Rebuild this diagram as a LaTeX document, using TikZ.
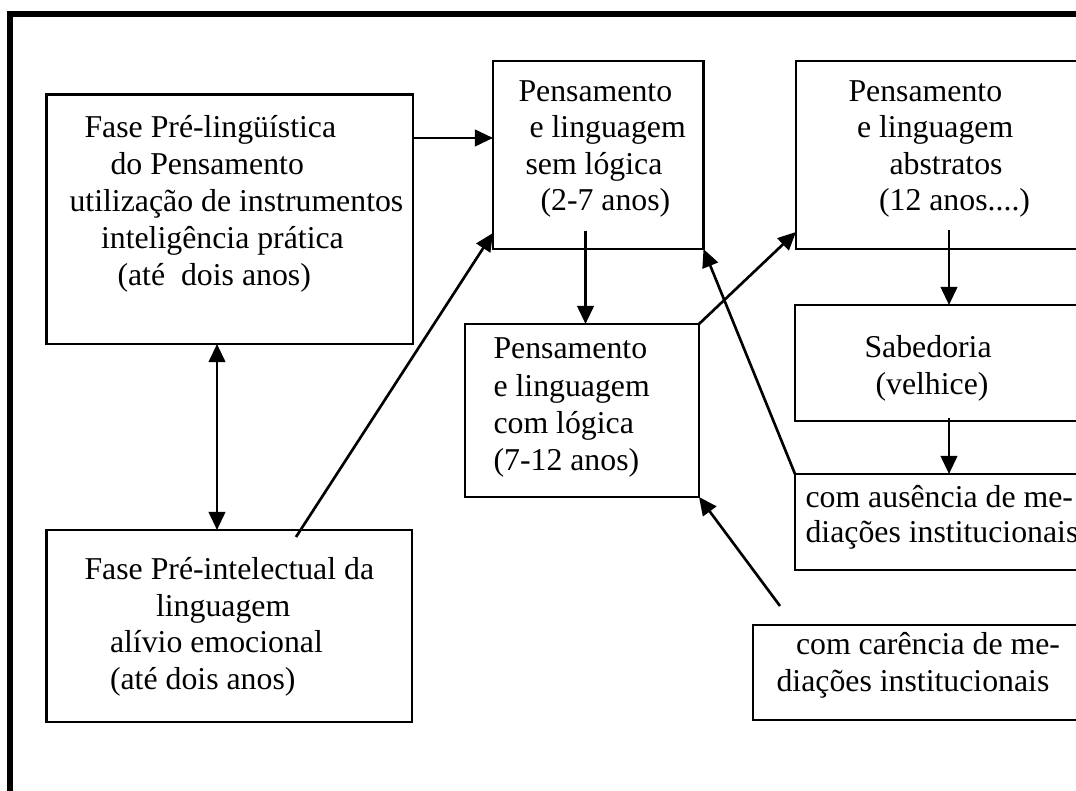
\documentclass[tikz,border=0pt]{standalone}
\usepackage{fontspec}
\setmainfont{Liberation Serif}
\usetikzlibrary{arrows.meta}
\newlength\U
\setlength\U{0.3774pt}
\tikzset{
  box/.style n args={2}{draw, line width=0.8pt, inner sep=0pt, outer sep=0pt,
    minimum width=#1*\U, minimum height=#2*\U, anchor=north west},
  txt/.style={inner sep=0pt, anchor=base west, font=\fontsize{12}{13.8}\selectfont},
  tip/.style={},
  arr/.style={line width=1pt, -{Triangle[length=6.8pt,width=6.2pt]}},
  dblarr/.style={line width=1pt, {Triangle[length=6.8pt,width=6.2pt]}-{Triangle[length=6.8pt,width=6.2pt]}},
  frame/.style={line width=2.3pt}
}
\begin{document}
\begin{tikzpicture}[x=\U, y=-\U]
\useasboundingbox (0,0) rectangle (1076,791);
\clip (0,0) rectangle (1076,791);
\fill[white] (0,0) rectangle (1076,791);
% outer frame
\draw[frame] (10,800) -- (10,14) -- (1090,14);
% boxes
\node[box={366.5}{249.5}] (A) at (46.5,94.5) {};
\node[box={210.5}{188}] (B) at (493,61) {};
\node[box={304}{188}] (C) at (796,61) {};
\node[box={234}{173}] (D) at (465,324) {};
\node[box={305}{116}] (E) at (795,305) {};
\node[box={305}{96}] (F) at (795,474) {};
\node[box={365.5}{192}] (G) at (46.5,530) {};
\node[box={347}{95}] (H) at (753,625) {};
% texts A
\node[txt] (a1) at (84,138) {Fase Pré-lingüística};
\node[txt] (a2) at (110,175) {do Pensamento};
\node[txt] (a3) at (69,212) {utilização de instrumentos};
\node[txt] (a4) at (100.5,249) {inteligência prática};
\node[txt] (a5) at (117,286) {(até\ \ dois anos)};
% texts B
\node[txt] (b1) at (518,102) {Pensamento};
\node[txt] (b2) at (529,138) {e linguagem};
\node[txt] (b3) at (525,175) {sem lógica};
\node[txt] (b4) at (540,211) {(2-7 anos)};
% texts C
\node[txt] (c1) at (848,102) {Pensamento};
\node[txt] (c2) at (856.5,138) {e linguagem};
\node[txt] (c3) at (889,175) {abstratos};
\node[txt] (c4) at (878.5,211) {(12 anos....)};
% texts D
\node[txt] (d1) at (493,359) {Pensamento};
\node[txt] (d2) at (493,397) {e linguagem};
\node[txt] (d3) at (493,434) {com lógica};
\node[txt] (d4) at (493,471) {(7-12 anos)};
% texts E
\node[txt] (e1) at (864,358) {Sabedoria};
\node[txt] (e2) at (875,395) {(velhice)};
% texts F
\node[txt] (f1) at (805,508) {com ausência de me-};
\node[txt] (f2) at (805,543) {diações institucionais};
% texts G
\node[txt] (g1) at (84,580) {Fase Pré-intelectual da};
\node[txt] (g2) at (155.5,617) {linguagem};
\node[txt] (g3) at (109.5,653) {alívio emocional};
\node[txt] (g4) at (109.5,690) {(até dois anos)};
% texts H
\node[txt] (h1) at (795.5,655) {com carência de me-};
\node[txt] (h2) at (776,692) {diações institucionais};
% free ends
\coordinate (bd) at (585.5,231);
\coordinate (ce) at (949,230);
\coordinate (ef) at (949,418);
\coordinate (gb) at (296,537);
\coordinate (hd) at (780,606);
% connectors
\draw[arr] (A.east |- 0,138) -- (B.west |- 0,138);
\draw[arr] (bd) -- (bd |- D.north);
\draw[arr] (D.north east) -- (C.west |- 0,232);
\draw[arr] (gb) -- (B.west |- 0,233);
\draw[dblarr] (A.south -| 217,0) -- (G.north -| 217,0);
\draw[arr] (ce) -- (ce |- E.north);
\draw[arr] (ef) -- (ef |- F.north);
\draw[arr] (F.north west) -- (B.south east);
\draw[arr] (hd) -- (D.south east);
\end{tikzpicture}
\end{document}
